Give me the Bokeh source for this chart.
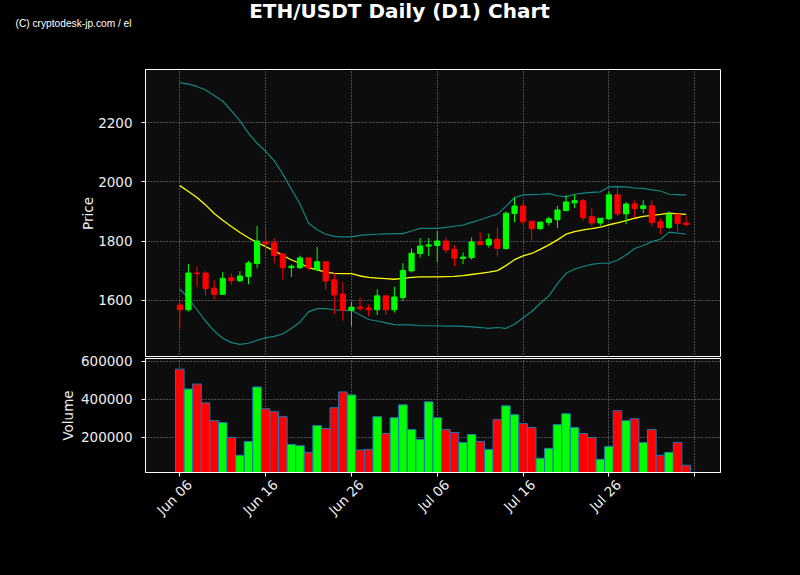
import math
from bokeh.plotting import figure
from bokeh.layouts import column
from bokeh.models import Range1d, FixedTicker, BasicTickFormatter, GlobalInlineStyleSheet
from bokeh.embed import file_html
from bokeh.resources import INLINE
from bokeh.core.properties import value

# ---------------- data ----------------
dates = (["Jun %02d" % d for d in range(6, 31)] +
         ["Jul %02d" % d for d in range(1, 32)] +
         ["Aug %02d" % d for d in range(1, 5)])

opens = [1584, 1568, 1692, 1692, 1641, 1620, 1676, 1666, 1680, 1724,
         1797, 1794, 1756, 1710, 1710, 1743, 1703, 1730, 1669, 1621,
         1566, 1577, 1574, 1568, 1615, 1568, 1609, 1699, 1758, 1783,
         1785, 1800, 1772, 1741, 1744, 1797, 1787, 1806, 1775, 1893,
         1918, 1867, 1842, 1863, 1872, 1903, 1929, 1936, 1882, 1861,
         1875, 1956, 1892, 1925, 1910, 1919, 1865, 1846, 1890, 1861]
highs = [1598, 1722, 1714, 1698, 1668, 1695, 1691, 1698, 1733, 1851,
         1840, 1810, 1760, 1721, 1750, 1743, 1780, 1730, 1692, 1661,
         1595, 1609, 1586, 1637, 1615, 1646, 1725, 1775, 1810, 1810,
         1834, 1812, 1786, 1762, 1812, 1829, 1825, 1846, 1900, 1947,
         1931, 1867, 1864, 1882, 1919, 1955, 1958, 1943, 1912, 1877,
         1968, 1983, 1931, 1938, 1938, 1938, 1877, 1900, 1890, 1884]
lows = [1504, 1562, 1645, 1615, 1603, 1620, 1652, 1661, 1654, 1708,
        1759, 1725, 1671, 1679, 1705, 1701, 1703, 1634, 1553, 1532,
        1513, 1564, 1546, 1550, 1550, 1558, 1598, 1694, 1744, 1749,
        1728, 1759, 1715, 1722, 1737, 1786, 1778, 1748, 1770, 1863,
        1857, 1803, 1837, 1852, 1844, 1900, 1911, 1869, 1849, 1852,
        1871, 1884, 1857, 1878, 1894, 1850, 1823, 1841, 1831, 1850]
closes = [1568, 1692, 1690, 1639, 1620, 1674, 1666, 1682, 1726, 1800,
          1790, 1751, 1710, 1715, 1743, 1710, 1730, 1665, 1618, 1566,
          1577, 1573, 1568, 1615, 1568, 1611, 1701, 1759, 1783, 1787,
          1800, 1770, 1742, 1746, 1797, 1788, 1806, 1775, 1894, 1918,
          1865, 1842, 1864, 1875, 1905, 1932, 1936, 1879, 1861, 1877,
          1956, 1892, 1925, 1910, 1919, 1863, 1846, 1890, 1859, 1856]
volumes = [558400, 454500, 480500, 381800, 288300, 277900, 200000, 106500, 179200, 464900,
           350600, 335100, 309100, 163600, 156700, 122100, 262300, 246800, 355800, 439000,
           423400, 134200, 137700, 309100, 220800, 303900, 371400, 241600, 189600, 387000,
           303900, 241600, 226000, 174000, 215600, 179200, 137700, 293500, 366200, 319500,
           272700, 252000, 90900, 142900, 267500, 324700, 252000, 220800, 200000, 85700,
           153200, 340300, 288300, 298700, 174000, 241600, 106500, 122100, 174000, 54500]
sma20 = [1987, 1967, 1947, 1922, 1893, 1870, 1849, 1829, 1811, 1795,
         1781, 1767, 1752, 1736, 1725, 1710, 1703, 1695, 1691, 1690,
         1690, 1682, 1677, 1675, 1673, 1671, 1674, 1677, 1679, 1679,
         1679, 1680, 1681, 1683, 1687, 1691, 1695, 1700, 1717, 1737,
         1750, 1758, 1772, 1787, 1804, 1823, 1832, 1838, 1842, 1847,
         1855, 1861, 1869, 1877, 1883, 1887, 1890, 1894, 1892, 1890]
bb_upper = [2335, 2330, 2322, 2310, 2291, 2272, 2240, 2206, 2164, 2130,
            2103, 2071, 2026, 1975, 1925, 1860, 1838, 1823, 1816, 1814,
            1814, 1819, 1822, 1823, 1824, 1825, 1825, 1834, 1843, 1843,
            1843, 1846, 1850, 1854, 1863, 1872, 1882, 1891, 1917, 1947,
            1956, 1957, 1958, 1960, 1953, 1949, 1958, 1962, 1964, 1966,
            1983, 1984, 1983, 1979, 1978, 1973, 1969, 1958, 1957, 1955]
bb_lower = [1638, 1607, 1568, 1530, 1496, 1472, 1457, 1451, 1455, 1465,
            1473, 1478, 1487, 1505, 1527, 1561, 1572, 1572, 1568, 1566,
            1566, 1550, 1535, 1530, 1524, 1518, 1517, 1517, 1514, 1514,
            1514, 1513, 1513, 1512, 1510, 1508, 1505, 1508, 1505, 1519,
            1541, 1562, 1590, 1615, 1656, 1691, 1705, 1714, 1721, 1725,
            1725, 1735, 1753, 1775, 1785, 1798, 1806, 1830, 1827, 1823]

x_ticks = [0, 10, 20, 30, 40, 50, 60]
x_tick_labels = ["Jun 06", "Jun 16", "Jun 26", "Jul 06", "Jul 16", "Jul 26", ""]
price_ticks = [1600, 1800, 2000, 2200]
volume_ticks = [200000, 400000, 600000]

title_text = "ETH/USDT Daily (D1) Chart"
credit_text = "(C) cryptodesk-jp.com / el"

# ---------------- styling ----------------
UP, DOWN = "#00ff00", "#ff0000"
FONT = "DejaVu Sans"
TXT = "#eeeeee"
GRID = "#8c8c8c"
FRAME_BG = "#0d0d0d"
W = 800
LEFT, RIGHT = 145, 80

n = len(dates)
xs = list(range(n))
colors = [UP if c >= o else DOWN for o, c in zip(opens, closes)]
body_top = [max(o, c) for o, c in zip(opens, closes)]
body_bot = [min(o, c) for o, c in zip(opens, closes)]

x_range = Range1d(-4, n + 3)
lo = min(min(lows), min(bb_lower))
hi = max(max(highs), max(bb_upper))
pad = (hi - lo) * 0.05

# ---------------- header ----------------
header = figure(width=W, height=68, x_range=Range1d(0, W), y_range=Range1d(0, 68),
                min_border=0, x_axis_type=None, y_axis_type=None,
                toolbar_location=None, output_backend="svg",
                background_fill_color="black", border_fill_color="black",
                outline_line_color=None)
header.frame_align = False
header.text(x=[399], y=[57.3], text=[title_text], text_font=value(FONT),
            text_font_style="bold", text_font_size="20px", text_color="white",
            text_align="center", text_baseline="alphabetic")
header.text(x=[15], y=[45], text=[credit_text], text_font=value("Liberation Sans"),
            text_font_size="10.2px", text_color="white",
            text_align="left", text_baseline="alphabetic")


def style_panel(fig, label, ticks, label_standoff):
    ax = fig.yaxis[0]
    ax.ticker = FixedTicker(ticks=ticks)
    ax.formatter = BasicTickFormatter(use_scientific=False)
    ax.axis_label = label
    ax.axis_line_color = "white"
    ax.major_tick_line_color = "white"
    ax.major_tick_out = 4
    ax.major_tick_in = 0
    ax.minor_tick_line_color = None
    ax.major_label_text_color = TXT
    ax.major_label_text_font = FONT
    ax.major_label_text_font_size = "13.5px"
    ax.major_label_standoff = 9
    ax.axis_label_text_color = TXT
    ax.axis_label_text_font = FONT
    ax.axis_label_text_font_size = "13.5px"
    ax.axis_label_text_font_style = "normal"
    ax.axis_label_standoff = label_standoff
    for g in (fig.ygrid, fig.xgrid):
        g.grid_line_color = GRID
        g.grid_line_dash = "1 2"
        g.grid_line_width = 1
    fig.xgrid.ticker = FixedTicker(ticks=x_ticks)
    fig.outline_line_color = "white"
    fig.outline_line_width = 1


# ---------------- price panel ----------------
p = figure(width=W, height=289, x_range=x_range, y_range=Range1d(lo - pad, hi + pad),
           x_axis_location=None, min_border_left=LEFT, min_border_right=RIGHT,
           min_border_top=1, min_border_bottom=0,
           toolbar_location=None, output_backend="svg",
           background_fill_color=FRAME_BG, border_fill_color="black")
style_panel(p, "Price", price_ticks, -1)

p.line(xs, bb_upper, line_color="#128585", line_width=1.2)
p.line(xs, bb_lower, line_color="#128585", line_width=1.2)
p.line(xs, sma20, line_color="#ffff00", line_width=1.3)
p.segment(x0=xs, y0=highs, x1=xs, y1=lows, line_color=colors, line_width=1)
p.vbar(x=xs, top=body_top, bottom=body_bot, width=0.6, fill_color=colors,
       line_color=colors, line_width=1)

# ---------------- volume panel ----------------
v = figure(width=W, height=223, x_range=x_range,
           y_range=Range1d(0.3 * min(volumes), 1.1 * max(volumes)),
           min_border_left=LEFT, min_border_right=RIGHT,
           min_border_top=7, min_border_bottom=102, margin=(-6, 0, 0, 0),
           toolbar_location=None, output_backend="svg",
           background_fill_color=FRAME_BG, border_fill_color=None)
style_panel(v, "Volume", volume_ticks, 2)
xa = v.xaxis[0]
xa.ticker = FixedTicker(ticks=x_ticks)
xa.major_label_overrides = {t: ("\n" + l if l else l) for t, l in zip(x_ticks, x_tick_labels)}
xa.major_label_orientation = math.pi / 4
xa.axis_line_color = "white"
xa.major_tick_line_color = "white"
xa.major_tick_out = 4
xa.major_tick_in = 0
xa.minor_tick_line_color = None
xa.major_label_text_color = TXT
xa.major_label_text_font = FONT
xa.major_label_text_font_size = "13.5px"
xa.major_label_text_line_height = 1.7
xa.major_label_standoff = -4

v.vbar(x=xs, top=volumes, bottom=0, width=1.0, fill_color=colors,
       line_color="#1f77b4", line_width=1)

layout = column(header, p, v, spacing=0,
                stylesheets=[GlobalInlineStyleSheet(css="body { background-color: black; }")])

open("out.html", "w").write(file_html(layout, INLINE))
